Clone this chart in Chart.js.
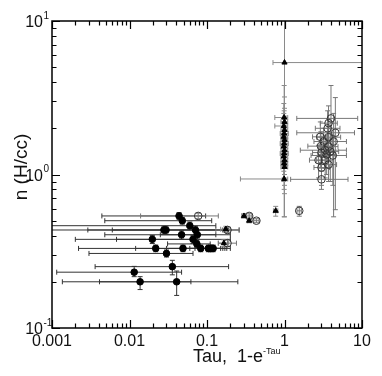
<!DOCTYPE html>
<html>
<head>
<meta charset="utf-8">
<script src="https://cdn.jsdelivr.net/npm/chart.js@4.4.1/dist/chart.umd.min.js"></script>
<style>
  body { margin: 0; background: #fff; }
</style>
</head>
<body>
<canvas id="chart" width="382" height="376"></canvas>
<script>
// axis ticks
const xTicks = [0.001, 0.01, 0.1, 1, 10];
const xTickLabels = ['0.001', '0.01', '0.1', '1', '10'];
const yTicks = [0.1, 1, 10];
const yTickExp = ['-1', '0', '1'];

// filled circles
const circX   = [0.0436, 0.048, 0.060, 0.0278, 0.0296, 0.071, 0.047, 0.075, 0.0197, 0.066, 0.074, 0.0218, 0.049, 0.083, 0.104, 0.112, 0.120, 0.030, 0.0357, 0.0115, 0.0137, 0.0406];
const circY   = [0.537, 0.50, 0.464, 0.435, 0.435, 0.435, 0.405, 0.405, 0.378, 0.378, 0.353, 0.33, 0.33, 0.33, 0.33, 0.33, 0.33, 0.306, 0.251, 0.231, 0.20, 0.20];
const circXLo = [0.0044, 0.0048, 0.0007, 0.0029, 0.0007, 0.006, 0.0048, 0.025, 0.002, 0.0068, 0.031, 0.0022, 0.012, 0.03, 0.05, 0.06, 0.07, 0.003, 0.0036, 0.00115, 0.00136, 0.0041];
const circXHi = [0.096, 0.115, 0.13, 0.19, 0.26, 0.16, 0.13, 0.2, 0.07, 0.2, 0.11, 0.12, 0.2, 0.17, 0.15, 0.16, 0.18, 0.066, 0.19, 0.047, 0.062, 0.25];
const circYLo = [0.51, 0.475, 0.44, 0.41, 0.41, 0.41, 0.38, 0.38, 0.355, 0.355, 0.335, 0.314, 0.314, 0.314, 0.314, 0.314, 0.314, 0.29, 0.222, 0.216, 0.178, 0.163];
const circYHi = [0.565, 0.525, 0.49, 0.46, 0.46, 0.46, 0.43, 0.43, 0.40, 0.40, 0.372, 0.347, 0.347, 0.347, 0.347, 0.347, 0.347, 0.322, 0.276, 0.252, 0.216, 0.235];

// triangles
const triX   = [0.30, 0.35, 0.77, 0.175, 0.165, 1.0, 0.99, 1.0, 0.98, 1.0, 0.99, 0.98, 1.0, 0.99, 0.98, 1.0, 0.99, 0.98, 1.0, 0.99, 1.0, 0.99];
const triY   = [0.537, 0.50, 0.58, 0.44, 0.357, 5.36, 2.35, 2.20, 2.07, 1.95, 1.85, 1.76, 1.68, 1.59, 1.52, 1.44, 1.37, 1.31, 1.24, 1.18, 1.12, 0.935];
const triXLo = [0.28, 0.33, 0.72, 0.15, 0.14, 0.71, 0.75, 0.9, 0.75, 0.9, 0.88, 0.9, 0.9, 0.88, 0.9, 0.9, 0.88, 0.9, 0.9, 0.9, 0.9, 0.27];
const triXHi = [0.32, 0.37, 0.82, 0.2, 0.19, 20, 1.1, 1.1, 1.1, 1.1, 1.12, 1.1, 1.1, 1.12, 1.1, 1.1, 1.12, 1.1, 1.1, 1.1, 1.1, 1.1];
const triYLo = [0.52, 0.485, 0.535, 0.42, 0.34, 0.53, 1.6, 1.5, 1.4, 1.35, 1.3, 1.2, 1.15, 1.1, 1.05, 1.0, 0.95, 0.9, 0.85, 0.8, 0.75, 0.53];
const triYHi = [0.555, 0.515, 0.62, 0.46, 0.375, 15, 3.8, 3.2, 2.9, 2.7, 2.6, 2.5, 2.4, 2.3, 2.2, 2.1, 2.0, 1.9, 1.8, 1.7, 1.6, 1.2];

// open circles
const openX   = [0.077, 0.184, 0.184, 0.35, 0.434, 1.55, 3.98, 3.7, 3.6, 4.53, 2.9, 3.7, 3.2, 4.3, 2.95, 3.7, 3.35, 3.0, 3.9, 3.5, 4.2, 2.75, 3.35, 3.7, 3.0, 3.0];
const openY   = [0.537, 0.435, 0.357, 0.537, 0.50, 0.58, 2.32, 2.16, 2.0, 1.87, 1.76, 1.75, 1.64, 1.64, 1.53, 1.52, 1.44, 1.39, 1.41, 1.35, 1.33, 1.24, 1.24, 1.16, 1.11, 0.93];
const openXLo = [0.0139, 0.13, 0.14, 0.32, 0.40, 1.45, 1.44, 2.9, 2.5, 1.44, 2.3, 2.6, 2.4, 3.0, 2.0, 2.8, 1.6, 2.3, 3.0, 2.7, 2.2, 2.1, 2.6, 2.9, 2.4, 1.2];
const openXHi = [0.14, 0.26, 0.24, 0.38, 0.47, 1.65, 8.8, 4.8, 5.2, 8.0, 3.6, 5.3, 4.2, 6.3, 4.3, 4.9, 6.3, 3.9, 5.0, 4.5, 6.3, 3.6, 4.3, 4.7, 3.8, 6.6];
const openYLo = [0.515, 0.415, 0.34, 0.52, 0.485, 0.535, 1.4, 1.7, 1.5, 0.59, 1.4, 1.3, 1.3, 0.53, 1.2, 1.1, 1.1, 1.1, 0.9, 1.0, 0.85, 0.95, 0.95, 0.9, 0.85, 0.8];
const openYHi = [0.56, 0.455, 0.375, 0.555, 0.515, 0.62, 3.8, 2.8, 2.6, 3.17, 2.2, 2.3, 2.0, 2.5, 1.9, 2.0, 1.8, 1.75, 2.0, 1.7, 1.8, 1.55, 1.6, 1.5, 1.4, 1.05];

const FONT = '"Liberation Sans", Arial, sans-serif';

const toPoints = (xs, ys) => xs.map((x, i) => ({ x: x, y: ys[i] }));

// error bars drawn under the markers
const errorBars = {
    id: 'errorBars',
    beforeDatasetsDraw(chart) {
        const ctx = chart.ctx;
        const xs = chart.scales.x;
        const ys = chart.scales.y;
        const area = chart.chartArea;
        ctx.save();
        ctx.beginPath();
        ctx.rect(area.left, area.top, area.right - area.left, area.bottom - area.top);
        ctx.clip();
        chart.data.datasets.forEach(ds => {
            const e = ds.err;
            ctx.strokeStyle = ds.errColor;
            ctx.lineWidth = 1;
            ds.data.forEach((p, i) => {
                const px = xs.getPixelForValue(p.x);
                const py = ys.getPixelForValue(p.y);
                const x0 = xs.getPixelForValue(e.xLo[i]);
                const x1 = xs.getPixelForValue(e.xHi[i]);
                const y0 = ys.getPixelForValue(e.yLo[i]);
                const y1 = ys.getPixelForValue(e.yHi[i]);
                ctx.beginPath();
                ctx.moveTo(x0, py); ctx.lineTo(x1, py);
                ctx.moveTo(x0, py - 2.5); ctx.lineTo(x0, py + 2.5);
                ctx.moveTo(x1, py - 2.5); ctx.lineTo(x1, py + 2.5);
                ctx.moveTo(px, y0); ctx.lineTo(px, y1);
                ctx.moveTo(px - 2.5, y0); ctx.lineTo(px + 2.5, y0);
                ctx.moveTo(px - 2.5, y1); ctx.lineTo(px + 2.5, y1);
                ctx.stroke();
            });
        });
        ctx.restore();
    }
};

// frame, inward ticks, labels and titles
const frame = {
    id: 'frame',
    afterDraw(chart) {
        const ctx = chart.ctx;
        const xs = chart.scales.x;
        const ys = chart.scales.y;
        const a = chart.chartArea;
        ctx.save();
        ctx.strokeStyle = '#000';
        ctx.lineWidth = 1.5;
        ctx.strokeRect(a.left, a.top, a.right - a.left, a.bottom - a.top);

        ctx.lineWidth = 1.2;
        ctx.beginPath();
        for (let d = -3; d <= 1; d++) {
            for (let m = 1; m <= 9; m++) {
                const v = m * Math.pow(10, d);
                if (v > 10.0001) continue;
                const len = m === 1 ? 8 : 4.5;
                const px = Math.round(xs.getPixelForValue(v)) + 0.5;
                ctx.moveTo(px, a.bottom); ctx.lineTo(px, a.bottom - len);
                ctx.moveTo(px, a.top); ctx.lineTo(px, a.top + len);
            }
        }
        for (let d = -1; d <= 1; d++) {
            for (let m = 1; m <= 9; m++) {
                const v = m * Math.pow(10, d);
                if (v > 10.0001) continue;
                const len = m === 1 ? 8 : 4.5;
                const py = Math.round(ys.getPixelForValue(v)) + 0.5;
                ctx.moveTo(a.left, py); ctx.lineTo(a.left + len, py);
                ctx.moveTo(a.right, py); ctx.lineTo(a.right - len, py);
            }
        }
        ctx.stroke();

        ctx.fillStyle = '#111';
        ctx.font = '16px ' + FONT;
        ctx.textAlign = 'center';
        ctx.textBaseline = 'alphabetic';
        xTicks.forEach((v, i) => {
            ctx.fillText(xTickLabels[i], xs.getPixelForValue(v), 346);
        });

        yTicks.forEach((v, i) => {
            const py = ys.getPixelForValue(v);
            ctx.font = '16px ' + FONT;
            ctx.textAlign = 'right';
            ctx.fillText('10', 43, py + 6);
            ctx.font = '10px ' + FONT;
            ctx.textAlign = 'left';
            ctx.fillText(yTickExp[i], 43.5, py - 2.5);
        });

        // x title
        ctx.font = '18px ' + FONT;
        ctx.textAlign = 'left';
        const main = 'Tau,  1-e';
        ctx.fillText(main, 193, 362);
        const w = ctx.measureText(main).width;
        ctx.font = '9px ' + FONT;
        ctx.fillText('-Tau', 193 + w, 353.5);

        // y title
        ctx.translate(22, 167);
        ctx.rotate(-Math.PI / 2);
        ctx.font = '19px ' + FONT;
        ctx.textAlign = 'center';
        ctx.textBaseline = 'middle';
        ctx.fillText('n (H/cc)', 0, 0);
        ctx.restore();
    }
};

const ctx = document.getElementById('chart').getContext('2d');
new Chart(ctx, {
    type: 'scatter',
    data: {
        datasets: [
            {
                label: 'filled',
                data: toPoints(circX, circY),
                err: { xLo: circXLo, xHi: circXHi, yLo: circYLo, yHi: circYHi },
                errColor: '#333',
                pointStyle: 'circle',
                pointRadius: 3.3,
                backgroundColor: '#000',
                borderColor: '#000',
                borderWidth: 1
            },
            {
                label: 'triangles',
                data: toPoints(triX, triY),
                err: { xLo: triXLo, xHi: triXHi, yLo: triYLo, yHi: triYHi },
                errColor: '#8a8a8a',
                pointStyle: 'triangle',
                pointRadius: 3,
                backgroundColor: '#000',
                borderColor: '#000',
                borderWidth: 1
            },
            {
                label: 'open',
                data: toPoints(openX, openY),
                err: { xLo: openXLo, xHi: openXHi, yLo: openYLo, yHi: openYHi },
                errColor: '#777',
                pointStyle: 'circle',
                pointRadius: 3.8,
                backgroundColor: 'rgba(0,0,0,0)',
                borderColor: '#333',
                borderWidth: 1
            }
        ]
    },
    options: {
        responsive: false,
        animation: false,
        layout: { padding: { left: 52, right: 20, top: 21, bottom: 48 } },
        plugins: {
            legend: { display: false },
            tooltip: { enabled: false }
        },
        scales: {
            x: { type: 'logarithmic', min: 0.001, max: 10, display: false },
            y: { type: 'logarithmic', min: 0.1, max: 10, display: false }
        }
    },
    plugins: [errorBars, frame]
});
</script>
</body>
</html>
